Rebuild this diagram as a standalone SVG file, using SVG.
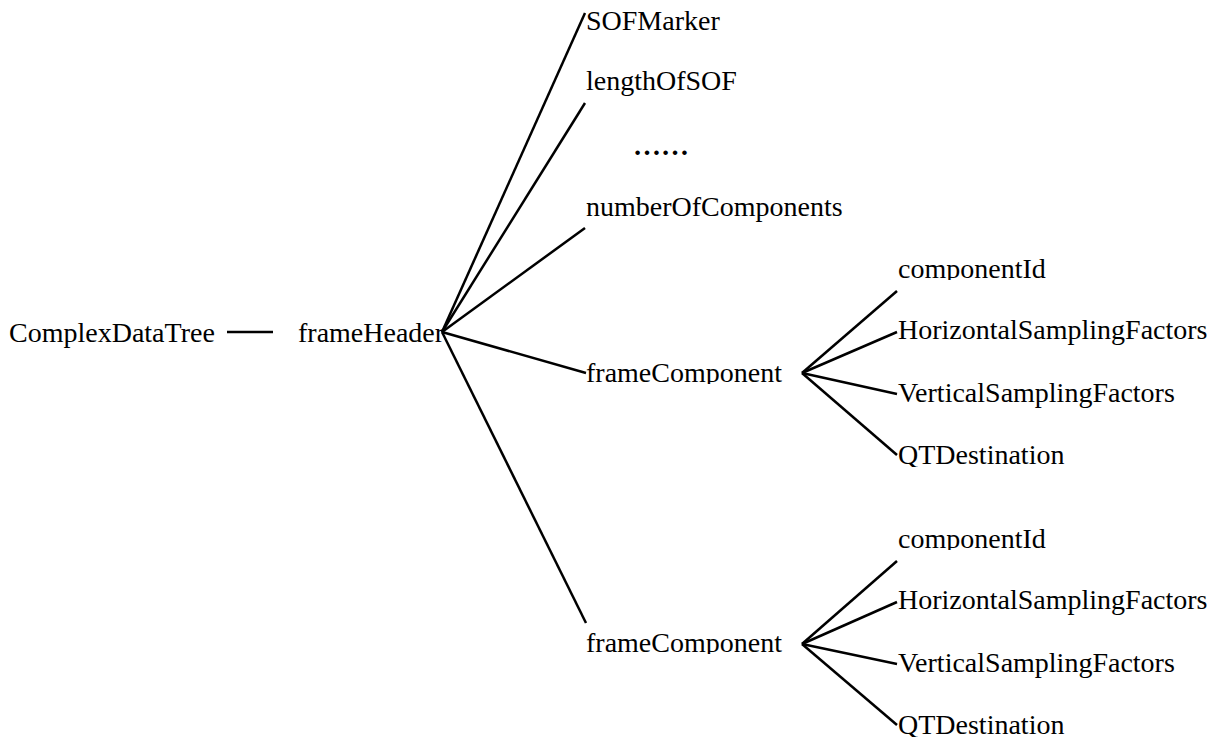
<svg xmlns="http://www.w3.org/2000/svg" width="1224" height="742" viewBox="0 0 1224 742">
  <style>
    .lbl { font-family: "Liberation Serif", "Times New Roman", serif; font-size: 28px; fill: #000; }
    .edge { stroke: #000; stroke-width: 2.5; fill: none; stroke-linecap: butt; }
  </style>
  <defs>
    <!-- some labels have their descenders cut off by their text boxes -->
    <clipPath id="clip-cid1"><rect x="880" y="240" width="200" height="40"/></clipPath>
    <clipPath id="clip-qt1"><rect x="880" y="430" width="220" height="37"/></clipPath>
    <clipPath id="clip-fc1"><rect x="580" y="350" width="220" height="34"/></clipPath>
    <clipPath id="clip-cid2"><rect x="880" y="510" width="200" height="40"/></clipPath>
    <clipPath id="clip-qt2"><rect x="880" y="700" width="220" height="37"/></clipPath>
    <clipPath id="clip-fc2"><rect x="580" y="620" width="220" height="34"/></clipPath>
  </defs>

  <rect width="1224" height="742" fill="#fff"/>

  <g id="connectors">
    <line class="edge" x1="227" y1="332" x2="273" y2="332"/>
    <!-- frameHeader fan-out -->
    <line class="edge" x1="442" y1="332" x2="585" y2="13"/>
    <line class="edge" x1="442" y1="332" x2="585" y2="103"/>
    <line class="edge" x1="442" y1="332" x2="585" y2="228"/>
    <line class="edge" x1="442" y1="332" x2="586" y2="373"/>
    <line class="edge" x1="442" y1="332" x2="586" y2="623"/>
    <!-- first frameComponent -->
    <line class="edge" x1="802" y1="373" x2="897" y2="291"/>
    <line class="edge" x1="802" y1="373" x2="897" y2="332"/>
    <line class="edge" x1="802" y1="373" x2="897" y2="394"/>
    <line class="edge" x1="802" y1="373" x2="897" y2="455"/>
    <!-- second frameComponent -->
    <line class="edge" x1="802" y1="644" x2="897" y2="561"/>
    <line class="edge" x1="802" y1="644" x2="897" y2="602"/>
    <line class="edge" x1="802" y1="644" x2="897" y2="664"/>
    <line class="edge" x1="802" y1="644" x2="897" y2="725"/>
  </g>

  <g id="root"><text class="lbl" x="9" y="342">ComplexDataTree</text></g>
  <g id="frameHeader"><text class="lbl" x="298" y="342">frameHeader</text></g>

  <g id="sofMarker"><text class="lbl" x="586" y="30">SOFMarker</text></g>
  <g id="lengthOfSOF"><text class="lbl" x="586" y="90">lengthOfSOF</text></g>
  <g id="ellipsis"><text class="lbl" x="633" y="155" font-weight="bold">……</text></g>
  <g id="numberOfComponents"><text class="lbl" x="586" y="216">numberOfComponents</text></g>

  <g id="frameComponent1"><text class="lbl" x="586" y="382" clip-path="url(#clip-fc1)">frameComponent</text></g>
  <g id="componentId1"><text class="lbl" x="898" y="278" clip-path="url(#clip-cid1)">componentId</text></g>
  <g id="hsf1"><text class="lbl" x="898" y="339">HorizontalSamplingFactors</text></g>
  <g id="vsf1"><text class="lbl" x="898" y="402">VerticalSamplingFactors</text></g>
  <g id="qt1"><text class="lbl" x="898" y="464" clip-path="url(#clip-qt1)">QTDestination</text></g>

  <g id="frameComponent2"><text class="lbl" x="586" y="652" clip-path="url(#clip-fc2)">frameComponent</text></g>
  <g id="componentId2"><text class="lbl" x="898" y="548" clip-path="url(#clip-cid2)">componentId</text></g>
  <g id="hsf2"><text class="lbl" x="898" y="609">HorizontalSamplingFactors</text></g>
  <g id="vsf2"><text class="lbl" x="898" y="672">VerticalSamplingFactors</text></g>
  <g id="qt2"><text class="lbl" x="898" y="734" clip-path="url(#clip-qt2)">QTDestination</text></g>
</svg>
